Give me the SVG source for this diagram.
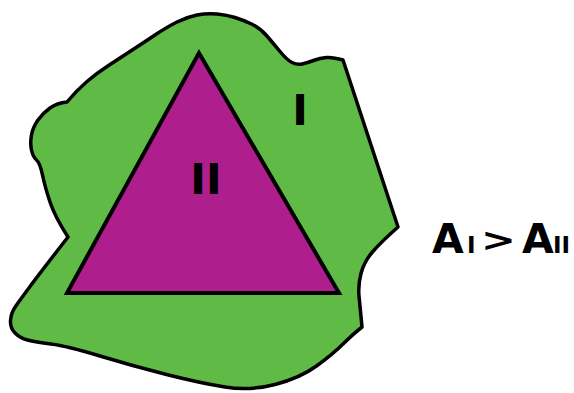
<svg xmlns="http://www.w3.org/2000/svg" width="574" height="393" viewBox="0 0 574 393">
<style>
.blob{fill:#60bb46;stroke:#000;stroke-width:3.5;stroke-linejoin:round}
.tri{fill:#ae1e8d;stroke:#000;stroke-width:4;stroke-linejoin:miter}
.lbl{font-family:"DejaVu Sans",sans-serif;font-weight:bold;fill:#000}
</style>
<rect width="574" height="393" fill="#fff"/>
<g id="region-I">
<path class="blob" d="M68,237 Q40,273 30,286.5 Q20,300 15.5,306.5 Q11,313 10.5,320.5 Q10,328 15,333 Q20,338 27.5,340 Q35,342 51,344 Q67,346 100,356 Q133,366 166.5,374.5 Q200,383 225,387 Q250,391 275,384.5 Q300,378 316.5,366 Q333,354 343,344 Q353,334 362,327 Q360,307 359,296 Q358,285 361,273.5 Q364,262 372,252.5 Q380,243 398,227 L343,60 Q333,57 326.5,57.5 Q320,58 313.5,60.5 Q307,63 302,64 Q297,65 292,62.5 Q287,60 280,51.5 Q273,43 266.5,35.5 Q260,28 251.5,24 Q243,20 235,17.5 Q227,15 217,14 Q207,13 197,15 Q187,17 177,22 Q167,27 155,35 Q143,43 131.5,50.5 Q120,58 108.5,65.5 Q97,73 87,81.5 Q77,90 67,102 Q57,103 50,108 Q43,113 38,120 Q33,127 31.5,135 Q30,143 31.5,150 Q33,157 36.5,160 Q40,163 42.5,175 Q45,187 50,202 Q55,217 68,237 Z"/>
<text class="lbl" x="300" y="125" font-size="42" text-anchor="middle">I</text>
</g>
<g id="region-II">
<polygon class="tri" points="199,53 67,293 339,293"/>
<text class="lbl" x="206" y="194" font-size="42" text-anchor="middle">II</text>
</g>
<g id="formula">
<text class="lbl" y="253" font-size="41"><tspan x="432">A</tspan><tspan x="467" font-size="23">I</tspan></text>
<text class="lbl" font-size="32" transform="translate(481,251) scale(1.3,1)">&gt;</text>
<text class="lbl" y="253" font-size="41"><tspan x="522">A</tspan><tspan x="553" font-size="23">II</tspan></text>
</g>
</svg>
